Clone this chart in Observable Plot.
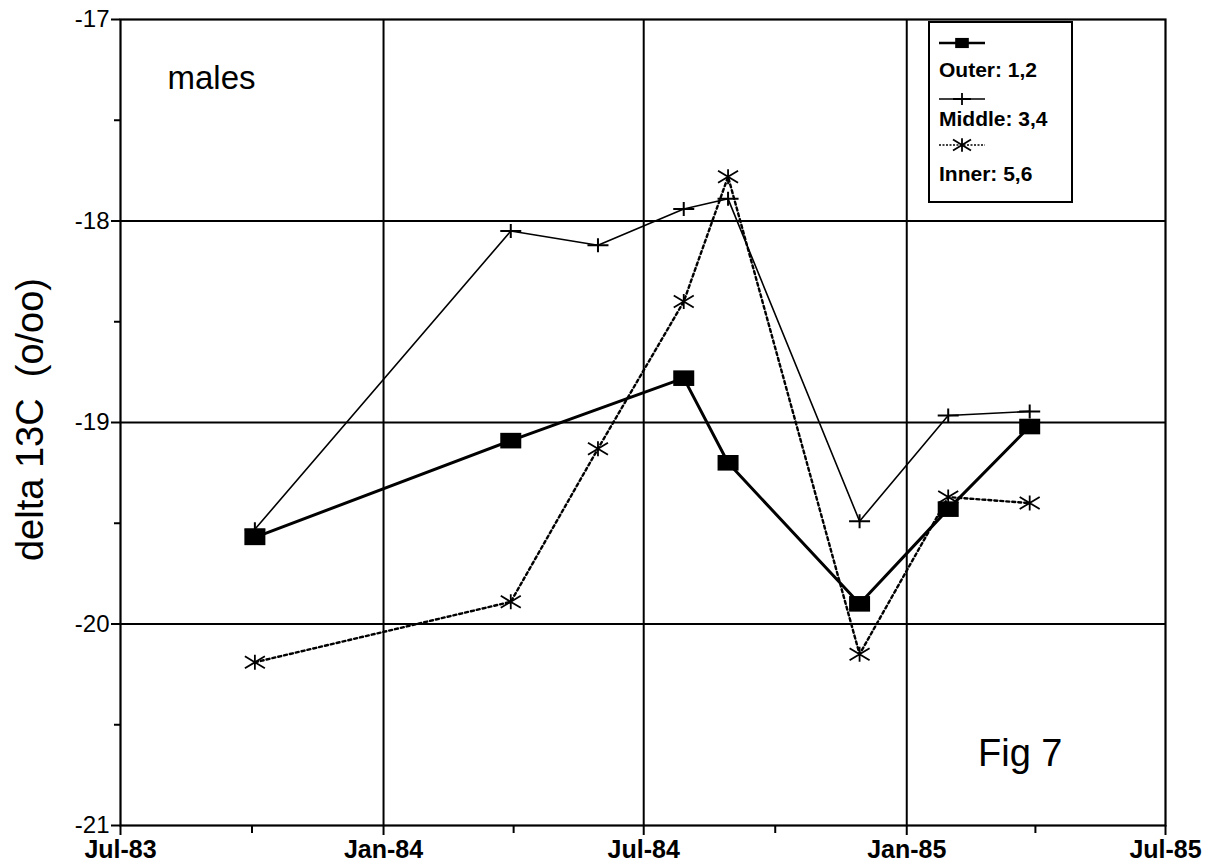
<!DOCTYPE html>
<html>
<head>
<meta charset="utf-8">
<script src="https://cdn.jsdelivr.net/npm/d3@7"></script>
<script src="https://cdn.jsdelivr.net/npm/@observablehq/plot@0.6"></script>
<style>
  body { margin: 0; background: #fff; }
  #chart { width: 1214px; height: 868px; }
</style>
</head>
<body>
<div id="chart"></div>
<script>
// Sampling dates (shared by the three ring positions)
const sampleDates = ["1983-10-03", "1984-03-30", "1984-05-30", "1984-07-29",
                     "1984-08-29", "1984-11-29", "1985-01-30", "1985-03-28"];

// delta 13C (per mil) for each ring position; null = not sampled
const outerValues  = [-19.57, -19.09, null,   -18.78, -19.20, -19.90, -19.43, -19.02];
const middleValues = [-19.53, -18.05, -18.12, -17.94, -17.89, -19.49, -18.965, -18.945];
const innerValues  = [-20.19, -19.89, -19.13, -18.40, -17.78, -20.15, -19.37, -19.40];

// Axis ticks and labels
const xTickDates  = ["1983-07-01", "1984-01-01", "1984-07-01", "1985-01-01", "1985-07-01"];
const xTickLabels = ["Jul-83", "Jan-84", "Jul-84", "Jan-85", "Jul-85"];
const xMinorDates = ["1983-10-01", "1984-04-01", "1984-10-01", "1985-04-01"];
const yTicks = [-17, -18, -19, -20, -21];
const yMinor = [-17.5, -18.5, -19.5, -20.5];
const yGrid = [-18, -19, -20];
const xGridDates = ["1984-01-01", "1984-07-01", "1985-01-01"];

const legendLabels = ["Outer: 1,2", "Middle: 3,4", "Inner: 5,6"];

const FONT = "'Liberation Sans', Arial, Helvetica, sans-serif";

const toRows = vals => sampleDates
  .map((d, i) => ({date: new Date(d), value: vals[i]}))
  .filter(r => r.value != null);

const outerRows = toRows(outerValues);
const middleRows = toRows(middleValues);
const innerRows = toRows(innerValues);

// Marker shapes: wide filled box, wide plus, flattened asterisk
const radius = size => Math.sqrt(size / Math.PI);
const boxSymbol = {
  draw(ctx, size) {
    const r = radius(size);
    const w = 1.05 * r, h = 0.78 * r;
    ctx.rect(-w, -h, 2 * w, 2 * h);
  }
};
const plusSymbol = {
  draw(ctx, size) {
    const r = radius(size);
    ctx.moveTo(-1.05 * r, 0); ctx.lineTo(1.05 * r, 0);
    ctx.moveTo(0, -0.7 * r); ctx.lineTo(0, 0.7 * r);
  }
};
const starSymbol = {
  draw(ctx, size) {
    const r = radius(size);
    const w = 1.0 * r, h = 0.6 * r;
    ctx.moveTo(-w, -h); ctx.lineTo(w, h);
    ctx.moveTo(-w, h); ctx.lineTo(w, -h);
    ctx.moveTo(0, -0.75 * r); ctx.lineTo(0, 0.75 * r);
  }
};

const parse = s => new Date(s);
const xTicks = xTickDates.map(parse);

const chart = Plot.plot({
  width: 1214,
  height: 868,
  marginLeft: 120,
  marginRight: 49,
  marginTop: 19,
  marginBottom: 43,
  style: {fontFamily: FONT, fontSize: "26px", background: "#fff", color: "#000"},
  x: {type: "utc", domain: [parse("1983-07-01"), parse("1985-07-01")]},
  y: {domain: [-21, -17]},
  marks: [
    Plot.gridY(yGrid, {stroke: "#000", strokeOpacity: 1, strokeWidth: 2}),
    Plot.gridX(xGridDates.map(parse), {stroke: "#000", strokeOpacity: 1, strokeWidth: 2}),
    Plot.frame({stroke: "#000", strokeWidth: 2.2}),
    Plot.axisY(yTicks, {
      tickSize: 9, tickPadding: 2, strokeWidth: 2, fontSize: 24,
      tickFormat: d => String(d), label: null
    }),
    Plot.axisY(yMinor, {tickSize: 6, strokeWidth: 2, tickFormat: () => "", label: null}),
    Plot.axisX(xTicks, {
      tickSize: 10, tickPadding: 5, strokeWidth: 2, fontSize: 25, fontWeight: "bold",
      tickFormat: d => xTickLabels[xTicks.findIndex(t => +t === +d)], label: null
    }),
    Plot.axisX(xMinorDates.map(parse), {tickSize: 8, strokeWidth: 2, tickFormat: () => "", label: null}),

    // Series lines
    Plot.line(outerRows, {x: "date", y: "value", stroke: "#000", strokeWidth: 3}),
    Plot.line(middleRows, {x: "date", y: "value", stroke: "#000", strokeWidth: 1.6}),
    Plot.line(innerRows, {x: "date", y: "value", stroke: "#000", strokeWidth: 2.4, strokeDasharray: "3,3"}),

    // Series markers
    Plot.dot(outerRows, {x: "date", y: "value", symbol: boxSymbol, r: 10, fill: "#000", stroke: "none"}),
    Plot.dot(middleRows, {x: "date", y: "value", symbol: plusSymbol, r: 10, fill: "none", stroke: "#000", strokeWidth: 2}),
    Plot.dot(innerRows, {x: "date", y: "value", symbol: starSymbol, r: 10, fill: "none", stroke: "#000", strokeWidth: 1.8}),

    // Annotations
    Plot.text(["males"], {frameAnchor: "top-left", dx: 47, dy: 46, fontSize: 33, lineAnchor: "top", textAnchor: "start"}),
    Plot.text(["Fig 7"], {frameAnchor: "bottom-right", dx: -103, dy: -60, fontSize: 38, lineAnchor: "bottom", textAnchor: "end"}),
    Plot.text(["delta 13C  (o/oo)"], {frameAnchor: "left", dx: -78, dy: -3, rotate: -90, fontSize: 38, lineAnchor: "bottom", textAnchor: "middle"})
  ]
});

document.getElementById("chart").appendChild(chart);

// Legend box inside the upper-right corner of the plot
const svg = d3.select(chart);
const lg = svg.append("g").attr("transform", "translate(929,22)");
lg.append("rect").attr("x", 0).attr("y", 0).attr("width", 143).attr("height", 180)
  .attr("fill", "#fff").attr("stroke", "#000").attr("stroke-width", 2);

const legendSymbols = [
  {sym: boxSymbol, r: 6.5, fill: "#000", stroke: "none", dash: null, lw: 2.5},
  {sym: plusSymbol, r: 8.5, fill: "none", stroke: "#000", dash: null, lw: 1.5},
  {sym: starSymbol, r: 9, fill: "none", stroke: "#000", dash: "2,1.5", lw: 1.5}
];
const sampleY = [21, 77, 123];
const labelY = [55, 104, 159];

legendLabels.forEach((label, i) => {
  const s = legendSymbols[i];
  lg.append("line").attr("x1", 10).attr("x2", 56).attr("y1", sampleY[i]).attr("y2", sampleY[i])
    .attr("stroke", "#000").attr("stroke-width", s.lw).attr("stroke-dasharray", s.dash);
  lg.append("path").attr("transform", `translate(33,${sampleY[i]})`)
    .attr("d", d3.symbol(s.sym, Math.PI * s.r * s.r)())
    .attr("fill", s.fill).attr("stroke", s.stroke).attr("stroke-width", 1.8);
  lg.append("text").attr("x", 10).attr("y", labelY[i])
    .attr("text-anchor", "start")
    .attr("font-family", FONT).attr("font-size", 21).attr("font-weight", "bold")
    .attr("fill", "#000").text(label);
});
</script>
</body>
</html>
